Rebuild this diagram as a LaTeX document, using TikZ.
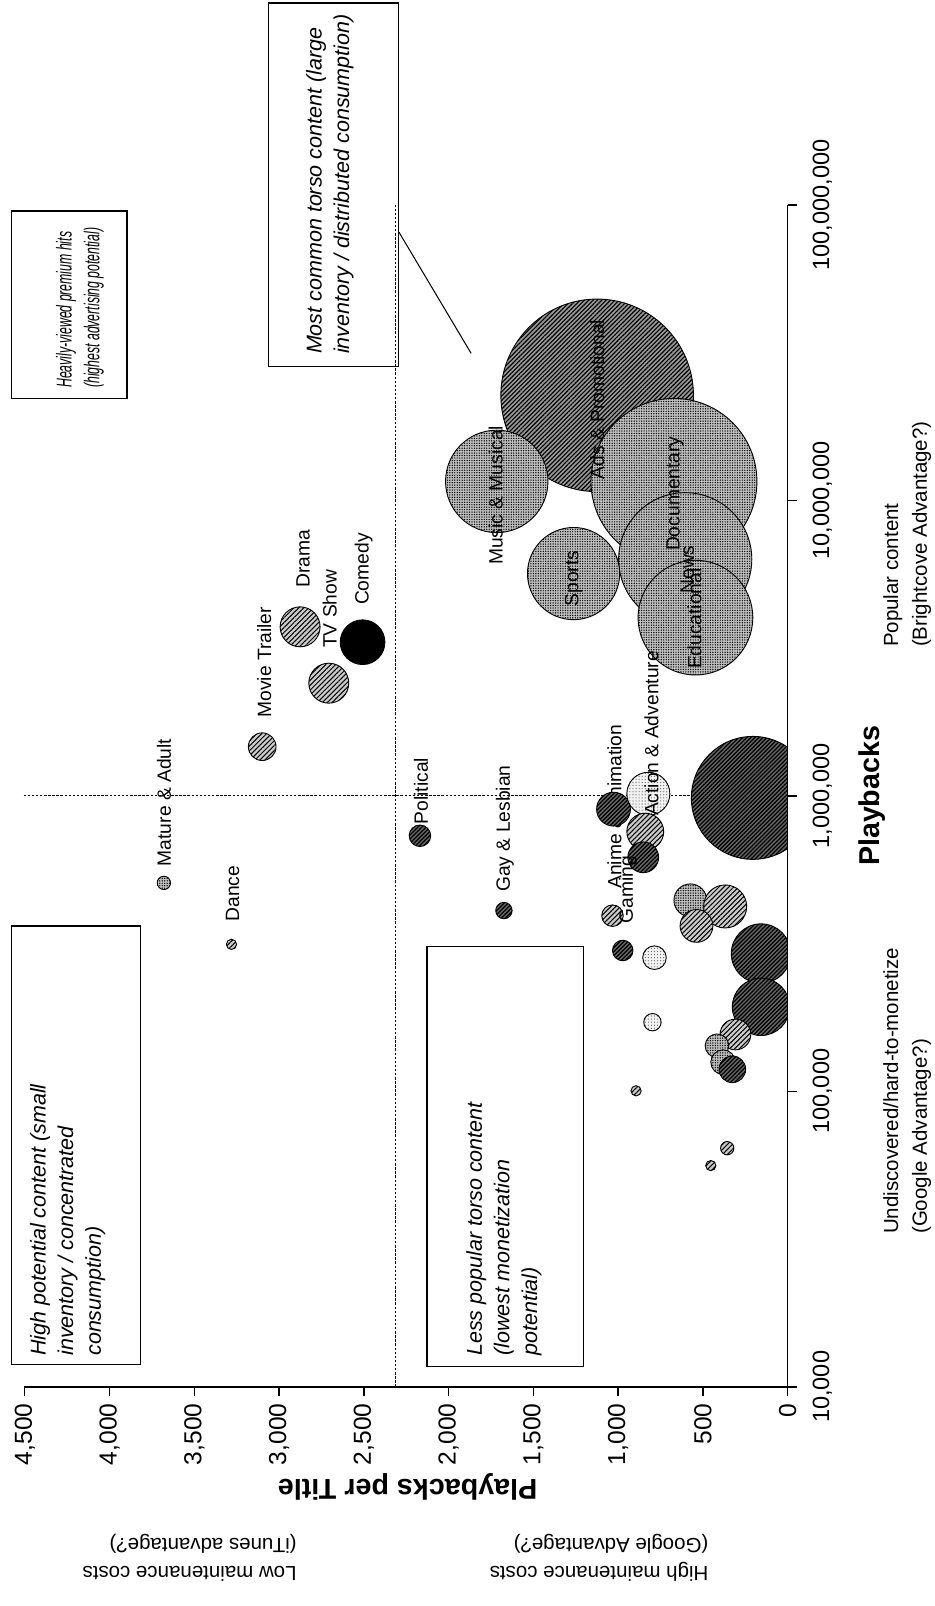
\documentclass[tikz,border=0pt]{standalone}
\usepackage{fontspec}
\setmainfont{Liberation Sans}
\usepackage{graphicx}
\usetikzlibrary{patterns.meta,calc}

\tikzset{
  axisline/.style={line width=0.7pt},
  quadline/.style={line width=0.5pt, dash pattern=on 1.2pt off 0.8pt},
  callout/.style={draw, line width=0.6pt, rotate=90, inner sep=0pt},
  calltext/.style={rotate=90, inner sep=0pt, align=left, anchor=west,
    font=\fontsize{10.5}{13.5}\selectfont\itshape},
  bubble/.style={draw=black, line width=0.45pt},
  hatchbub/.style={bubble, preaction={fill=black!20},
    pattern={Lines[angle=45,distance=1.7pt,line width=0.5pt]}},
  midbub/.style={bubble, preaction={fill=black!40},
    pattern={Lines[angle=45,distance=1.5pt,line width=0.55pt]}},
  darkbub/.style={bubble, preaction={fill=black!60},
    pattern={Lines[angle=45,distance=1.4pt,line width=0.6pt]}},
  dotbub/.style={bubble, preaction={fill=black!25},
    pattern={Dots[distance=1.2pt,radius=0.35pt]}},
  palebub/.style={bubble, preaction={fill=black!5}, pattern color=black!60,
    pattern={Dots[distance=1.5pt,radius=0.3pt]}},
  blackbub/.style={bubble, fill=black},
  lbl/.style={rotate=90, inner sep=0pt, anchor=west, font=\fontsize{9.4}{11}\selectfont},
  inlbl/.style={lbl, anchor=center},
  ytick/.style={rotate=90, inner sep=0pt, anchor=east, font=\fontsize{12}{12}\selectfont},
  xtick/.style={rotate=90, inner sep=0pt, anchor=north, font=\fontsize{11.5}{11.5}\selectfont},
  axistitle/.style={inner sep=0pt, font=\fontsize{14}{14}\selectfont\bfseries},
  note/.style={inner sep=0pt, align=left, font=\fontsize{10}{14}\selectfont},
  leader/.style={line width=0.5pt},
}

\begin{document}
\begin{tikzpicture}[x=0.5pt,y=-0.5pt]
    \useasboundingbox (0,0) rectangle (912,1568);

    % Quadrant lines
    \draw[quadline] (23,777) -- (769,777);
    \draw[quadline] (386,1354) -- (386,200);

    % Callout boxes
    \node[callout, minimum width=91.5pt, minimum height=56.5pt] (hits) at (67.5,297.5) {};
    \node[calltext] (hitstext) at (78,379)
        {\scalebox{0.57}[1]{Heavily-viewed premium hits}\\\scalebox{0.57}[1]{(highest advertising potential)}};
    \node[callout, minimum width=177.5pt, minimum height=63.5pt] (torso) at (325.5,180.5) {};
    \node[calltext] (torsotext) at (322,346) {Most common torso content (large\\inventory / distributed consumption)};
    \node[callout, minimum width=214pt, minimum height=63pt] (potential) at (74,1118) {};
    \node[calltext] (potentialtext) at (66,1324) {High potential content (small\\inventory / concentrated\\consumption)};
    \node[callout, minimum width=205pt, minimum height=76.5pt] (lesspop) at (493.5,1129) {};
    \node[calltext] (lesstext) at (492,1324) {Less popular torso content\\(lowest monetization\\potential)};

    % Leader from the torso box
    \coordinate (torsotip) at (460,345);
    \draw[leader] ($(torso.south east)!0.63!(torso.south west)$) -- (torsotip);

    % Label hidden behind the bubbles
    \node[lbl] (anime) at (600,868) {Anime \& Animation};

    % Bubbles
    \begin{scope}
        \clip (0,0) rectangle (769,1354);
        \foreach \x/\y/\r/\s in {
            160/862/6.5/dotbub, 226/922/5/hatchbub, 256/729/13.5/hatchbub,
            293/612/19.5/hatchbub, 321/667/19.5/hatchbub, 354/627/21.8/blackbub,
            410/816/10.5/darkbub, 492/889/8/darkbub,
            583/386/94/midbub, 485/470/50/dotbub, 658/470/81/dotbub,
            669/546/65/dotbub, 679/603/56/dotbub, 560/560/45/dotbub,
            735/779/60/darkbub, 599/790/16.5/darkbub, 633/775/21/palebub,
            630/812/18/hatchbub, 628/837/15/darkbub, 598/894/10.5/hatchbub,
            674/879/16/dotbub, 708/885/21/hatchbub, 680/904/16/hatchbub,
            608/928/10/darkbub, 639/935/11.5/palebub, 743/931/29/darkbub,
            743/983/28/darkbub, 637/998/8.5/palebub, 718/1010/15/hatchbub,
            700/1021/11.5/dotbub, 706/1037/12/dotbub, 715/1044/13/darkbub,
            621/1065/5/hatchbub, 710/1121/6.5/hatchbub, 694/1138/5/hatchbub}
            \path[\s] (\x,\y) circle (\r);
    \end{scope}

    % Bubble labels
    \node[lbl] (mature) at (160,846) {Mature \& Adult};
    \node[lbl] (dance) at (227,900) {Dance};
    \node[lbl] (trailer) at (258,701) {Movie Trailer};
    \node[lbl] (drama) at (296,574) {Drama};
    \node[lbl] (tvshow) at (322,633) {TV Show};
    \node[lbl] (comedy) at (355,591) {Comedy};
    \node[lbl] (political) at (411,805) {Political};
    \node[lbl] (gay) at (493,871) {Gay \& Lesbian};
    \node[lbl] (gaming) at (613,902) {Gaming};
    \node[lbl] (action) at (636,797) {Action \& Adventure};
    \node[lbl] (music) at (484,552) {Music \& Musical};
    \node[inlbl] (sports) at (560,565) {Sports};
    \node[inlbl] (ads) at (583,390) {Ads \& Promotional};
    \node[inlbl] (docu) at (659,482) {Documentary};
    \node[inlbl] (news) at (671,556) {News};
    \node[inlbl] (edu) at (678,604) {Educational};

    % Axes
    \draw[axisline] (23.4,1354) -- (769,1354) -- (769,200);
    \foreach \i/\t in {0/0,1/500,2/{1,000},3/{1,500},4/{2,000},5/{2,500},6/{3,000},7/{3,500},8/{4,000},9/{4,500}} {
        \draw[axisline] ({769-82.76*\i},1354) -- ++(0,9);
        \node[ytick] (yt\i) at ({769-82.76*\i},1370) {\t};
    }
    \foreach \k/\t in {0/{10,000},1/{100,000},2/{1,000,000},3/{10,000,000},4/{100,000,000}} {
        \draw[axisline] (769,{1354-288.5*\k}) -- ++(9,0);
        \node[xtick] (xt\k) at (793,{1354-288.5*\k}) {\t};
    }

    % Axis titles
    \node[axistitle, rotate=90, anchor=north] (xtitle) at (838,777) {Playbacks};
    \node[axistitle, rotate=180] (ytitle) at (398,1452) {Playbacks per Title};

    % Notes
    \node[note, rotate=90, anchor=north west] (undisc) at (862,1205) {Undiscovered/hard-to-monetize\\(Google Advantage?)};
    \node[note, rotate=90, anchor=north west] (popular) at (862,632) {Popular content\\(Brightcove Advantage?)};
    \node[note, rotate=180, anchor=west] (lowcost) at (290,1521) {Low maintenance costs\\(iTunes advantage?)};
    \node[note, rotate=180, anchor=west] (highcost) at (692,1521) {High maintenance costs\\(Google Advantage?)};
\end{tikzpicture}
\end{document}
